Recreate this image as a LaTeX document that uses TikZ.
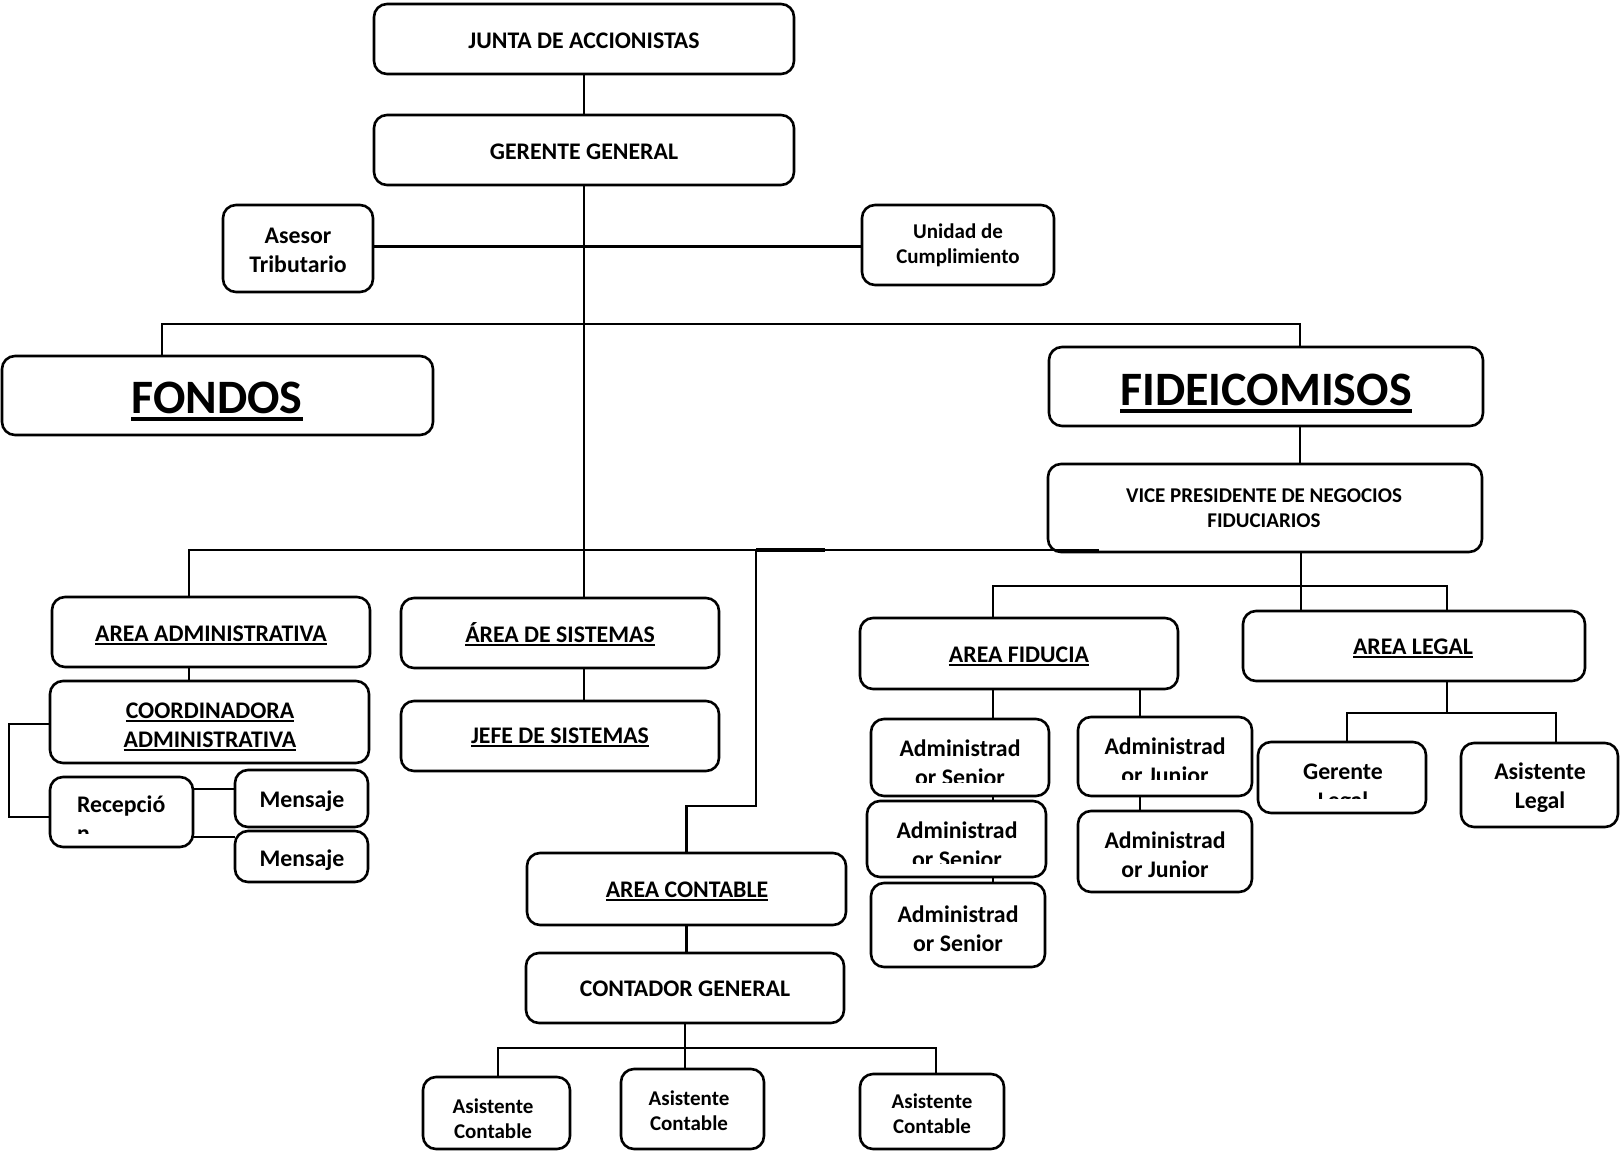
\documentclass[tikz,border=0pt]{standalone}
\usepackage{fontspec}
\setmainfont{Carlito}
\usetikzlibrary{calc}
\newcommand\fA{\fontsize{23.8}{29}\selectfont\bfseries}
\newcommand\fB{\fontsize{21}{25.6}\selectfont\bfseries}
\newcommand\fC{\fontsize{48}{58}\selectfont\bfseries}
\newcommand\ul[1]{\setbox0=\hbox{#1}\rlap{\rule[-0.16em]{\wd0}{0.08em}}\box0}
\newcommand\tl[2]{\begin{tabular}[t]{@{}c@{}}#1\\#2\end{tabular}}
\newcommand\tll[2]{\begin{tabular}[t]{@{}l@{}}#1\\#2\end{tabular}}
\begin{document}
\begin{tikzpicture}[x=1pt,y=-1pt,
 box/.style={draw, line width=2.6pt, rounded corners=13pt, inner sep=0pt, outer sep=0pt},
 txt/.style={inner sep=0pt, outer sep=0pt, anchor=base},
 ln/.style={line width=2.6pt}]
\useasboundingbox (0,0) rectangle (1621,1151);
% boxes
\node[box, minimum width=420pt, minimum height=70pt] (jun) at (584,39) {};
\node[box, minimum width=420pt, minimum height=70pt] (ger) at (584,150) {};
\node[box, minimum width=150pt, minimum height=87pt] (ase) at (298,248.5) {};
\node[box, minimum width=192pt, minimum height=80pt] (uni) at (958,245) {};
\node[box, minimum width=431pt, minimum height=79pt] (fon) at (217.5,395.5) {};
\node[box, minimum width=434pt, minimum height=79pt] (fid) at (1266,386.5) {};
\node[box, minimum width=434pt, minimum height=88pt] (vic) at (1265,508) {};
\node[box, minimum width=318pt, minimum height=70pt] (adm) at (211,632) {};
\node[box, minimum width=319pt, minimum height=82pt] (coo) at (209.5,722) {};
\node[box, minimum width=143pt, minimum height=70pt] (rec) at (121.5,812) {};
\node[box, minimum width=133pt, minimum height=57pt] (men1) at (301.5,798.5) {};
\node[box, minimum width=133pt, minimum height=51pt] (men2) at (301.5,856.5) {};
\node[box, minimum width=318pt, minimum height=70pt] (sis) at (560,633) {};
\node[box, minimum width=318pt, minimum height=70pt] (jef) at (560,736) {};
\node[box, minimum width=319pt, minimum height=72pt] (con) at (686.5,889) {};
\node[box, minimum width=318pt, minimum height=70pt] (cog) at (685,988) {};
\node[box, minimum width=147pt, minimum height=72pt] (as1) at (496.5,1113) {};
\node[box, minimum width=143pt, minimum height=80pt] (as2) at (692.5,1109) {};
\node[box, minimum width=144pt, minimum height=75pt] (as3) at (932,1111.5) {};
\node[box, minimum width=318pt, minimum height=71pt] (fidu) at (1019,653.5) {};
\node[box, minimum width=178pt, minimum height=77pt] (sen1) at (960,757.5) {};
\node[box, minimum width=179pt, minimum height=76pt] (sen2) at (956.5,839) {};
\node[box, minimum width=174pt, minimum height=84pt] (sen3) at (958,925) {};
\node[box, minimum width=174pt, minimum height=79pt] (jun1) at (1165,756.5) {};
\node[box, minimum width=174pt, minimum height=81pt] (jun2) at (1165,851.5) {};
\node[box, minimum width=342pt, minimum height=70pt] (leg) at (1414,646) {};
\node[box, minimum width=168pt, minimum height=71pt] (gel) at (1342,777.5) {};
\node[box, minimum width=157pt, minimum height=84pt] (asl) at (1539.5,785) {};
% texts
\node[txt,font=\fA] (t-jun) at (584,48) {JUNTA DE ACCIONISTAS};
\node[txt,font=\fA] (t-ger) at (584,159) {GERENTE GENERAL};
\node[txt,font=\fA] (t-ase) at (298,243) {\tl{Asesor}{Tributario}};
\node[txt,font=\fB] (t-uni) at (958,238) {\tl{Unidad de}{Cumplimiento}};
\node[txt,font=\fC] (t-fon) at (217,413) {\ul{FONDOS}};
\node[txt,font=\fC] (t-fid) at (1266,405) {\ul{FIDEICOMISOS}};
\node[txt,font=\fB] (t-vic) at (1264,502) {\tl{VICE PRESIDENTE DE NEGOCIOS}{FIDUCIARIOS}};
\node[txt,font=\fA] (t-adm) at (211,641) {\ul{AREA ADMINISTRATIVA}};
\node[txt,font=\fA] (t-coo) at (210,718) {\tl{\ul{COORDINADORA}}{\ul{ADMINISTRATIVA}}};
\begin{scope}
\clip (52,779) rectangle (191,833);
\node[txt,font=\fA,anchor=base west] (t-rec) at (77,812) {\tll{Recepció}{n}};
\end{scope}
\node[txt,font=\fA] (t-men1) at (302,807) {Mensaje};
\node[txt,font=\fA] (t-men2) at (302,866) {Mensaje};
\node[txt,font=\fA] (t-sis) at (560,642) {\ul{ÁREA DE SISTEMAS}};
\node[txt,font=\fA] (t-jef) at (560,743) {\ul{JEFE DE SISTEMAS}};
\node[txt,font=\fA] (t-con) at (687,897) {\ul{AREA CONTABLE}};
\node[txt,font=\fA] (t-cog) at (685,996) {CONTADOR GENERAL};
\node[txt,font=\fB] (t-as1) at (493,1113) {\tl{Asistente}{Contable}};
\node[txt,font=\fB] (t-as2) at (689,1105) {\tl{Asistente}{Contable}};
\node[txt,font=\fB] (t-as3) at (932,1108) {\tl{Asistente}{Contable}};
\node[txt,font=\fA] (t-fidu) at (1019,662) {\ul{AREA FIDUCIA}};
\begin{scope}
\clip (873,721) rectangle (1047,782);
\node[txt,font=\fA] (t-sen1) at (960,756) {\tl{Administrad}{or Senior}};
\end{scope}
\begin{scope}
\clip (869,803) rectangle (1044,863);
\node[txt,font=\fA] (t-sen2) at (957,838) {\tl{Administrad}{or Senior}};
\end{scope}
\node[txt,font=\fA] (t-sen3) at (958,922) {\tl{Administrad}{or Senior}};
\begin{scope}
\clip (1080,719) rectangle (1250,779);
\node[txt,font=\fA] (t-jun1) at (1165,754) {\tl{Administrad}{or Junior}};
\end{scope}
\node[txt,font=\fA] (t-jun2) at (1165,848) {\tl{Administrad}{or Junior}};
\node[txt,font=\fA] (t-leg) at (1413,654) {\ul{AREA LEGAL}};
\begin{scope}
\clip (1260,744) rectangle (1424,798);
\node[txt,font=\fA] (t-gel) at (1343,779) {\tl{Gerente}{Legal}};
\end{scope}
\node[txt,font=\fA] (t-asl) at (1540,779) {\tl{Asistente}{Legal}};
% connectors
\coordinate (vx) at (584,0);
\draw[ln] (jun) -- (ger);
\draw[ln] (vx |- ger.south) -- (vx |- sis.north);
\draw[ln] (vx |- sis.south) -- (vx |- jef.north);
\coordinate (hy) at (0,246.5);
\draw[ln] (ase.east |- hy) -- (uni.west |- hy);
\coordinate (b1) at (162,324);
\coordinate (b2) at (1300,324);
\draw[ln] (b1 |- fon.north) -- (b1) -- (b2) -- (b2 |- fid.north);
\draw[ln] (b2 |- fid.south) -- (b2 |- vic.north);
\coordinate (c1) at (189,550);
\coordinate (c2) at (1099,550);
\coordinate (c3) at (756,550);
\coordinate (k) at (0,806);
\draw[ln] (c1 |- adm.north) -- (c1) -- (c2);
\draw[line width=4.2pt] (c3) -- ++(69,0);
\draw[ln] (c1 |- adm.south) -- (c1 |- coo.north);
\draw[ln] (c3) -- (c3 |- k) -| (con.north);
\coordinate (r1) at (9,724);
\coordinate (r2) at (9,817);
\draw[ln] (coo.west |- r1) -- (r1) -- (r2) -- (rec.west |- r2);
\coordinate (m1) at (0,789);
\coordinate (m2) at (0,837);
\draw[ln] (rec.east |- m1) -- (men1.west |- m1);
\draw[ln] (rec.east |- m2) -- (men2.west |- m2);
\draw[ln] (con.south) -- (con.south |- cog.north);
\draw[ln] (cog.south) -- (cog.south |- as2.north);
\coordinate (e1) at (498,1048);
\coordinate (e2) at (936,1048);
\draw[ln] (e1 |- as1.north) -- (e1) -- (e2) -- (e2 |- as3.north);
\coordinate (f0) at (1301,0);
\draw[ln] (f0 |- vic.south) -- (f0 |- leg.north);
\coordinate (f1) at (993,586);
\coordinate (f2) at (1447,586);
\draw[ln] (f1 |- fidu.north) -- (f1) -- (f2) -- (f2 |- leg.north);
\draw[ln] (f1 |- fidu.south) -- (f1 |- sen1.north);
\draw[ln] (f1 |- sen1.south) -- (f1 |- sen2.north);
\draw[ln] (f1 |- sen2.south) -- (f1 |- sen3.north);
\coordinate (g) at (1140,0);
\draw[ln] (g |- fidu.south) -- (g |- jun1.north);
\draw[ln] (g |- jun1.south) -- (g |- jun2.north);
\coordinate (h1) at (1347,713);
\coordinate (h2) at (1556,713);
\draw[ln] (f2 |- leg.south) -- (f2 |- h1);
\draw[ln] (h1 |- gel.north) -- (h1) -- (h2) -- (h2 |- asl.north);
\end{tikzpicture}
\end{document}
